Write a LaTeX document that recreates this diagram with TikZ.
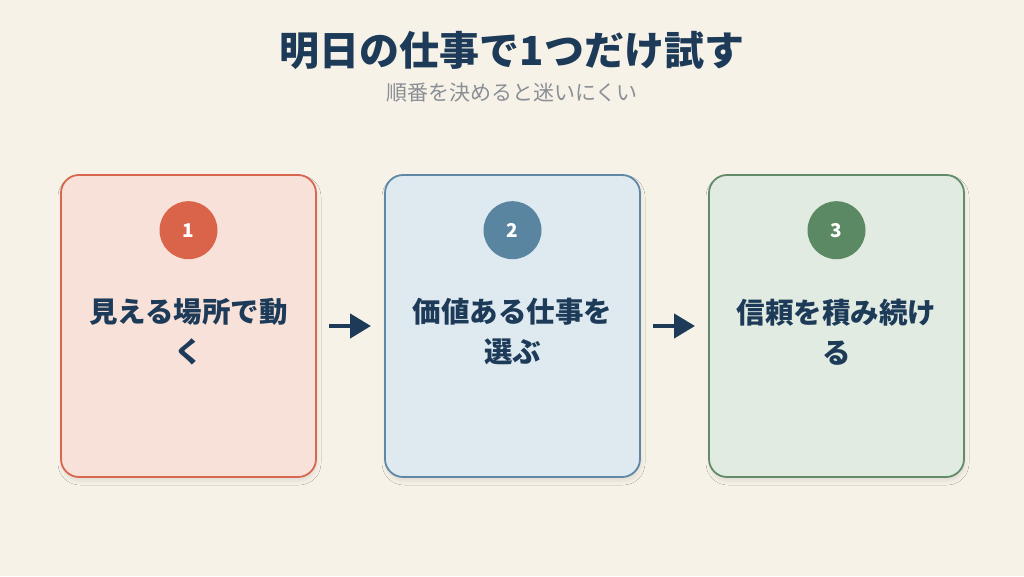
\documentclass[tikz,border=0pt]{standalone}
\usepackage{fontspec}
\setmainfont{Noto Sans CJK JP}
\usetikzlibrary{positioning, arrows.meta, shadows.blur}
\definecolor{bgc}{HTML}{F6F2E8}
\definecolor{navy}{HTML}{1D3B58}
\definecolor{greyt}{HTML}{8A8E95}
\definecolor{redb}{HTML}{D8674F}
\definecolor{redf}{HTML}{F7E1D9}
\definecolor{redc}{HTML}{DA6449}
\definecolor{blueb}{HTML}{5E88A6}
\definecolor{bluef}{HTML}{DEE9F0}
\definecolor{bluec}{HTML}{5A85A1}
\definecolor{greenb}{HTML}{628C69}
\definecolor{greenf}{HTML}{E1EBE1}
\definecolor{greenc}{HTML}{5B8963}

\begin{document}
\begin{tikzpicture}
[x=1pt, y=1pt,
   card/.style={shape=rectangle, rounded corners=18pt, line width=1.8pt, outer sep=0pt,
     minimum width=255pt, minimum height=302pt,
     blur shadow={shadow xshift=1pt, shadow yshift=-4pt, shadow opacity=9, shadow blur steps=8, shadow blur radius=4pt}},
   num/.style={shape=circle, minimum size=58pt, inner sep=0pt, text=white,
     font=\fontsize{19}{20}\selectfont\bfseries},
   lbl/.style={align=center, text=navy, font=\fontsize{28.5}{40}\selectfont\bfseries},
   ->/.style={line width=4.5pt, navy, arrows={-{Triangle[length=21pt,width=24pt]}},
     shorten <=13pt, shorten >=14pt}]
\fill[bgc] (0,0) rectangle (1024,576);
\useasboundingbox (0,0) rectangle (1024,576);
\node[text=navy, font=\fontsize{40}{44}\selectfont\bfseries] (T) at (512, 526) {明日の仕事で1つだけ試す};
\node[text=greyt, font=\fontsize{21}{24}\selectfont] (ST) at (512, 483) {順番を決めると迷いにくい};
\node[card, draw=redb, fill=redf] (S1) at (188.5, 250) {};
\node[card, draw=blueb, fill=bluef] (S2) [right=69pt of S1] {};
\node[card, draw=greenb, fill=greenf] (S3) [right=69pt of S2] {};
\node[num, fill=redc] (N1) [below=26pt of S1.north] {1};
\node[num, fill=bluec] (N2) [below=26pt of S2.north] {2};
\node[num, fill=greenc] (N3) [below=26pt of S3.north] {3};
\node[lbl] (L1) at ([yshift=-6pt]S1.center) {見える場所で動\\く};
\node[lbl] (L2) at ([yshift=-6pt]S2.center) {価値ある仕事を\\選ぶ};
\node[lbl] (L3) at ([yshift=-6pt]S3.center) {信頼を積み続け\\る};
\draw [->] (S1) to (S2);
\draw [->] (S2) to (S3);
\end{tikzpicture}
\end{document}
